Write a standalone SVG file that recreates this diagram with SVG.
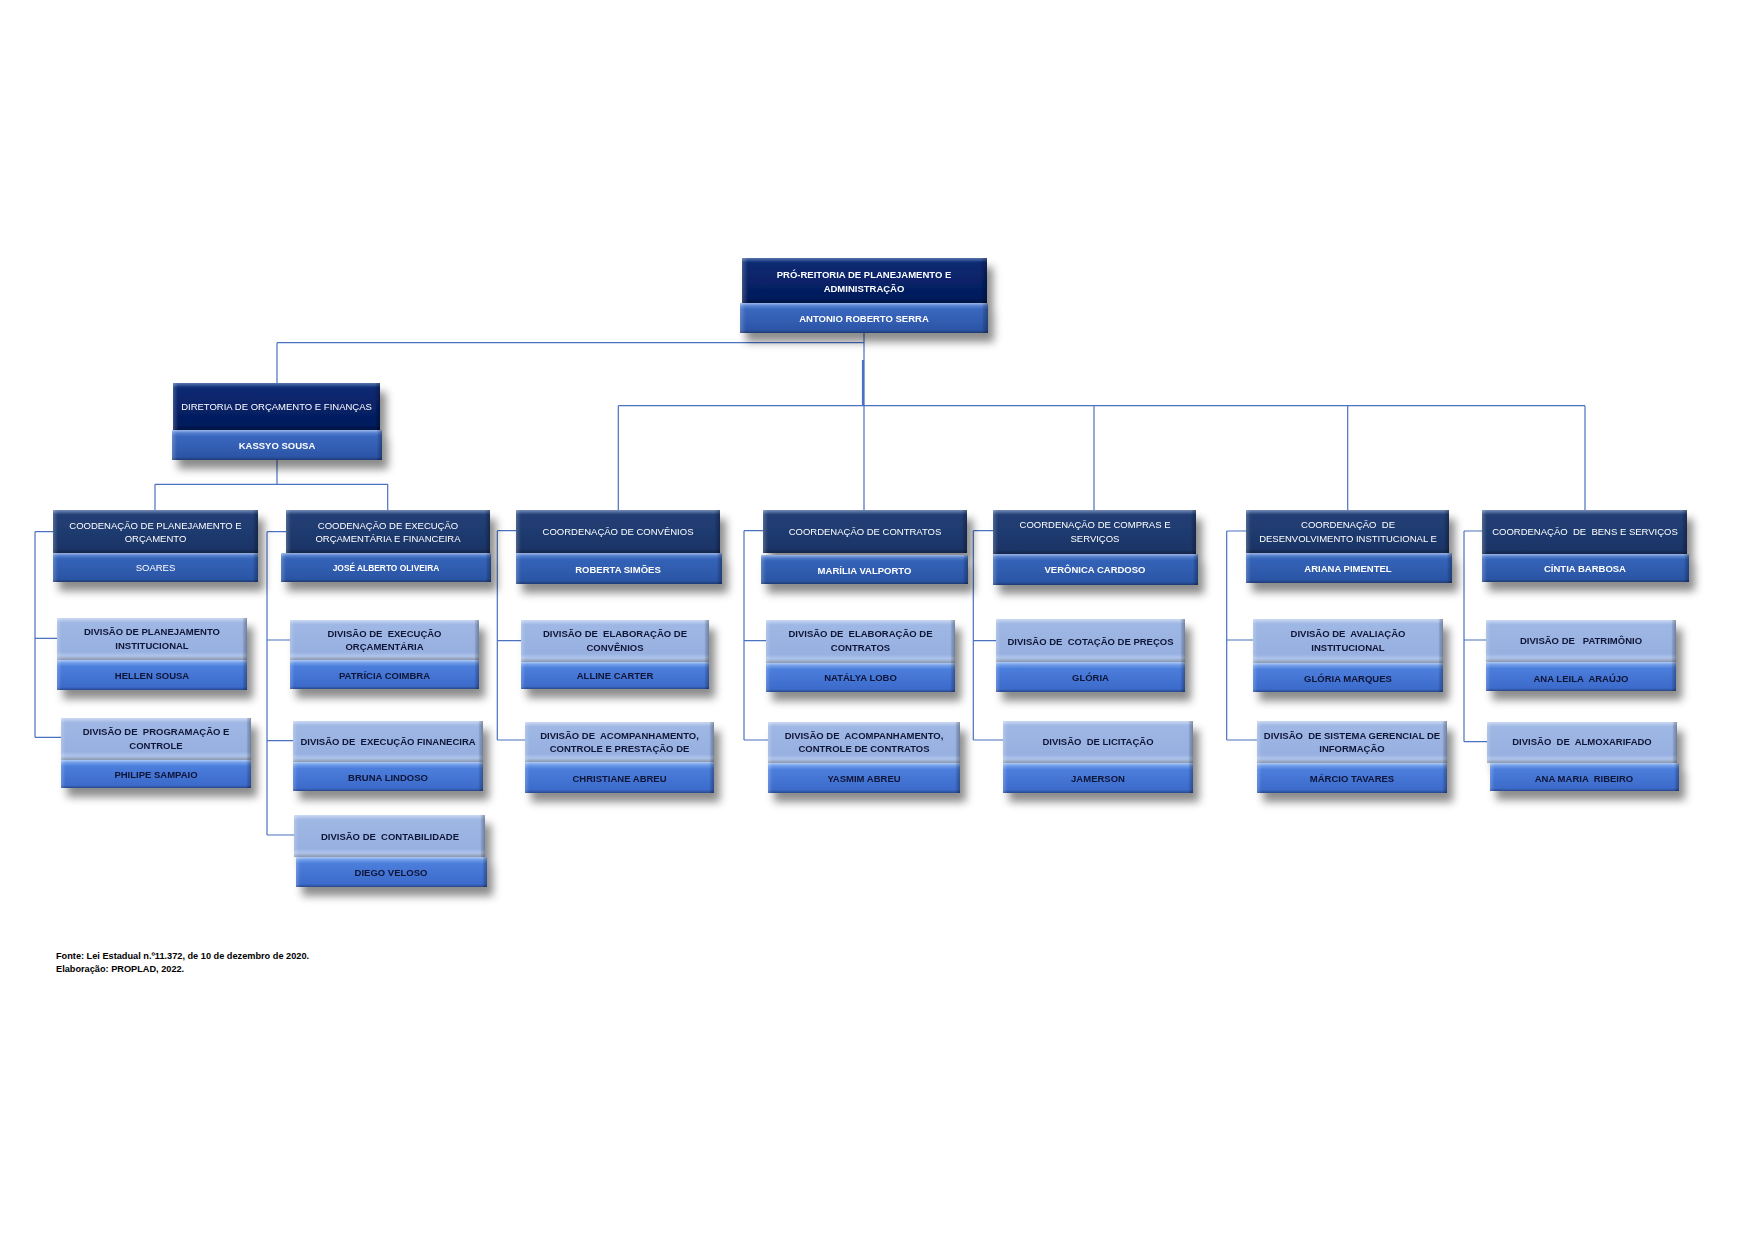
<svg xmlns="http://www.w3.org/2000/svg" width="1755" height="1241" viewBox="0 0 1755 1241">
<defs>
<linearGradient id="gTop" x1="0" y1="0" x2="0" y2="1"><stop offset="0" stop-color="#123a8a"/><stop offset="0.12" stop-color="#0a2a72"/><stop offset="1" stop-color="#04195a"/></linearGradient>
<linearGradient id="gTopBar" x1="0" y1="0" x2="0" y2="1"><stop offset="0" stop-color="#6f97e0"/><stop offset="0.2" stop-color="#3a68bf"/><stop offset="1" stop-color="#2a52a3"/></linearGradient>
<linearGradient id="gCo" x1="0" y1="0" x2="0" y2="1"><stop offset="0" stop-color="#3a5a95"/><stop offset="0.12" stop-color="#223f75"/><stop offset="1" stop-color="#1b3466"/></linearGradient>
<linearGradient id="gCoBar" x1="0" y1="0" x2="0" y2="1"><stop offset="0" stop-color="#6e95dc"/><stop offset="0.2" stop-color="#3463b8"/><stop offset="1" stop-color="#2a53a2"/></linearGradient>
<linearGradient id="gDv" x1="0" y1="0" x2="0" y2="1"><stop offset="0" stop-color="#b4c8ee"/><stop offset="0.12" stop-color="#9fb7e4"/><stop offset="0.8" stop-color="#97b0e0"/><stop offset="1" stop-color="#c4d7f6"/></linearGradient>
<linearGradient id="gDvBar" x1="0" y1="0" x2="0" y2="1"><stop offset="0" stop-color="#8ab2f2"/><stop offset="0.22" stop-color="#4c7edc"/><stop offset="1" stop-color="#3a68c8"/></linearGradient>
<linearGradient id="bv" x1="0" y1="0" x2="0" y2="1"><stop offset="0" stop-color="#fff" stop-opacity="0.3"/><stop offset="0.07" stop-color="#fff" stop-opacity="0.08"/><stop offset="0.1" stop-color="#fff" stop-opacity="0"/><stop offset="0.9" stop-color="#000" stop-opacity="0"/><stop offset="0.94" stop-color="#000" stop-opacity="0.12"/><stop offset="1" stop-color="#000" stop-opacity="0.3"/></linearGradient>
<linearGradient id="bh" x1="0" y1="0" x2="1" y2="0"><stop offset="0" stop-color="#fff" stop-opacity="0.22"/><stop offset="0.018" stop-color="#fff" stop-opacity="0.05"/><stop offset="0.025" stop-color="#fff" stop-opacity="0"/><stop offset="0.975" stop-color="#000" stop-opacity="0"/><stop offset="0.982" stop-color="#000" stop-opacity="0.12"/><stop offset="1" stop-color="#000" stop-opacity="0.3"/></linearGradient>
<filter id="sh" x="-10%" y="-20%" width="130%" height="180%"><feDropShadow dx="6" dy="9" stdDeviation="4.5" flood-color="#000" flood-opacity="0.45"/></filter>
</defs>
<style>
.node{filter:url(#sh)}
.top{fill:url(#gTop)}
.topbar{fill:url(#gTopBar)}
.co{fill:url(#gCo)}
.cobar{fill:url(#gCoBar)}
.dv{fill:url(#gDv)}
.dvbar{fill:url(#gDvBar)}
.bv{fill:url(#bv)}
.bh{fill:url(#bh)}
text{font-family:"Liberation Sans",Arial,sans-serif;text-anchor:middle;white-space:pre}
.tw{fill:#fff;font-size:9.5px}
.twb{fill:#fff;font-size:9.5px;font-weight:bold}
.tdb{fill:#0f1436;font-size:9.5px;font-weight:bold}
.ft{fill:#000;font-size:9.2px;font-weight:bold;text-anchor:start}
.cn{fill:none;stroke:#4a72c0;stroke-width:1.2}
</style>
<rect width="1755" height="1241" fill="#fff"/>

<g id="connectors" class="cn">
<path d="M864 333V510"/>
<path d="M863 360V405.7" stroke-width="2.2"/>
<path d="M277 342.7H864M277 342.7V383"/>
<path d="M618.3 405.7H1585M618.3 405.7V510M1094 405.7V510M1347.7 405.7V510M1585 405.7V510"/>
<path d="M277 460V484.3M155 484.3H387.7M155 484.3V510M387.7 484.3V510"/>
<path d="M35 531.7V737.3M35 531.7H53M35 638.3H57M35 737.3H61"/>
<path d="M267 531.7V835M267 531.7H286M267 640H290M267 740.7H293M267 835H294"/>
<path d="M497.3 530.7V740M497.3 530.7H516M497.3 640.7H521M497.3 740H525"/>
<path d="M744 530.7V740M744 530.7H763M744 640.7H766M744 740H768"/>
<path d="M973.3 530.7V740M973.3 530.7H993M973.3 640.7H996M973.3 740H1003"/>
<path d="M1226.7 531V740M1226.7 531H1246M1226.7 640H1253M1226.7 740H1257"/>
<path d="M1464 531V741.7M1464 531H1482M1464 640H1486M1464 741.7H1487"/>
</g>

<g id="n-proreitoria" class="node">
<rect class="top" x="742" y="258" width="245" height="45"/><rect class="bv" x="742" y="258" width="245" height="45"/><rect class="bh" x="742" y="258" width="245" height="45"/>
<rect class="topbar" x="740" y="303" width="248" height="30"/><rect class="bv" x="740" y="303" width="248" height="30"/><rect class="bh" x="740" y="303" width="248" height="30"/>
<text class="twb" x="864" y="277.5">PRÓ-REITORIA DE PLANEJAMENTO E</text>
<text class="twb" x="864" y="291.5">ADMINISTRAÇÃO</text>
<text class="twb" x="864" y="322">ANTONIO ROBERTO SERRA</text>
</g>

<g id="n-diretoria" class="node">
<rect class="top" x="173" y="383" width="207" height="47"/><rect class="bv" x="173" y="383" width="207" height="47"/><rect class="bh" x="173" y="383" width="207" height="47"/>
<rect class="topbar" x="172" y="430" width="210" height="30"/><rect class="bv" x="172" y="430" width="210" height="30"/><rect class="bh" x="172" y="430" width="210" height="30"/>
<text class="tw" x="276.5" y="410">DIRETORIA DE ORÇAMENTO E FINANÇAS</text>
<text class="twb" x="277" y="448.5">KASSYO SOUSA</text>
</g>

<g id="n-coord-planejamento" class="node">
<rect class="co" x="53" y="510" width="205" height="43"/><rect class="bv" x="53" y="510" width="205" height="43"/><rect class="bh" x="53" y="510" width="205" height="43"/>
<rect class="cobar" x="53" y="553" width="205" height="29"/><rect class="bv" x="53" y="553" width="205" height="29"/><rect class="bh" x="53" y="553" width="205" height="29"/>
<text class="tw" x="155.5" y="528.5">COODENAÇÃO DE PLANEJAMENTO E</text>
<text class="tw" x="155.5" y="542">ORÇAMENTO</text>
<text class="tw" x="155.5" y="571">SOARES</text>
</g>

<g id="n-coord-execucao" class="node">
<rect class="co" x="286" y="510" width="204" height="43"/><rect class="bv" x="286" y="510" width="204" height="43"/><rect class="bh" x="286" y="510" width="204" height="43"/>
<rect class="cobar" x="281" y="553" width="210" height="29"/><rect class="bv" x="281" y="553" width="210" height="29"/><rect class="bh" x="281" y="553" width="210" height="29"/>
<text class="tw" x="388" y="528.5">COODENAÇÃO DE EXECUÇÃO</text>
<text class="tw" x="388" y="542">ORÇAMENTÁRIA E FINANCEIRA</text>
<text class="twb" x="386" y="570.5" style="font-size:8.4px">JOSÉ ALBERTO OLIVEIRA</text>
</g>

<g id="n-coord-convenios" class="node">
<rect class="co" x="516" y="510" width="204" height="43"/><rect class="bv" x="516" y="510" width="204" height="43"/><rect class="bh" x="516" y="510" width="204" height="43"/>
<rect class="cobar" x="516" y="553" width="206" height="31"/><rect class="bv" x="516" y="553" width="206" height="31"/><rect class="bh" x="516" y="553" width="206" height="31"/>
<text class="tw" x="618" y="535">COORDENAÇÃO DE CONVÊNIOS</text>
<text class="twb" x="618" y="572.5">ROBERTA SIMÕES</text>
</g>

<g id="n-coord-contratos" class="node">
<rect class="co" x="763" y="510" width="204" height="43"/><rect class="bv" x="763" y="510" width="204" height="43"/><rect class="bh" x="763" y="510" width="204" height="43"/>
<rect class="cobar" x="761" y="555" width="207" height="29"/><rect class="bv" x="761" y="555" width="207" height="29"/><rect class="bh" x="761" y="555" width="207" height="29"/>
<text class="tw" x="865" y="535">COORDENAÇÃO DE CONTRATOS</text>
<text class="twb" x="864.5" y="573.5">MARÍLIA VALPORTO</text>
</g>

<g id="n-coord-compras" class="node">
<rect class="co" x="993" y="510" width="203" height="44"/><rect class="bv" x="993" y="510" width="203" height="44"/><rect class="bh" x="993" y="510" width="203" height="44"/>
<rect class="cobar" x="993" y="554" width="205" height="31"/><rect class="bv" x="993" y="554" width="205" height="31"/><rect class="bh" x="993" y="554" width="205" height="31"/>
<text class="tw" x="1095" y="528">COORDENAÇÃO DE COMPRAS E</text>
<text class="tw" x="1095" y="542">SERVIÇOS</text>
<text class="twb" x="1095" y="573">VERÔNICA CARDOSO</text>
</g>

<g id="n-coord-desenvolvimento" class="node">
<rect class="co" x="1246" y="510" width="203" height="43"/><rect class="bv" x="1246" y="510" width="203" height="43"/><rect class="bh" x="1246" y="510" width="203" height="43"/>
<rect class="cobar" x="1246" y="553" width="206" height="30"/><rect class="bv" x="1246" y="553" width="206" height="30"/><rect class="bh" x="1246" y="553" width="206" height="30"/>
<text class="tw" x="1348" y="528">COORDENAÇÃO  DE</text>
<text class="tw" x="1348" y="542">DESENVOLVIMENTO INSTITUCIONAL E</text>
<text class="twb" x="1348" y="572">ARIANA PIMENTEL</text>
</g>

<g id="n-coord-bens" class="node">
<rect class="co" x="1482" y="510" width="205" height="44"/><rect class="bv" x="1482" y="510" width="205" height="44"/><rect class="bh" x="1482" y="510" width="205" height="44"/>
<rect class="cobar" x="1482" y="554" width="207" height="28"/><rect class="bv" x="1482" y="554" width="207" height="28"/><rect class="bh" x="1482" y="554" width="207" height="28"/>
<text class="tw" x="1585" y="535">COORDENAÇÃO  DE  BENS E SERVIÇOS</text>
<text class="twb" x="1585" y="572">CÍNTIA BARBOSA</text>
</g>

<g id="n-div-planejamento" class="node">
<rect class="dv" x="57" y="618" width="190" height="42"/><rect class="bv" x="57" y="618" width="190" height="42"/><rect class="bh" x="57" y="618" width="190" height="42"/>
<rect class="dvbar" x="57" y="660" width="190" height="30"/><rect class="bv" x="57" y="660" width="190" height="30"/><rect class="bh" x="57" y="660" width="190" height="30"/>
<text class="tdb" x="152" y="634.5">DIVISÃO DE PLANEJAMENTO</text>
<text class="tdb" x="152" y="648.5">INSTITUCIONAL</text>
<text class="tdb" x="152" y="678.5">HELLEN SOUSA</text>
</g>

<g id="n-div-programacao" class="node">
<rect class="dv" x="61" y="718" width="190" height="42"/><rect class="bv" x="61" y="718" width="190" height="42"/><rect class="bh" x="61" y="718" width="190" height="42"/>
<rect class="dvbar" x="61" y="760" width="190" height="28"/><rect class="bv" x="61" y="760" width="190" height="28"/><rect class="bh" x="61" y="760" width="190" height="28"/>
<text class="tdb" x="156" y="734.5">DIVISÃO DE  PROGRAMAÇÃO E</text>
<text class="tdb" x="156" y="748.5">CONTROLE</text>
<text class="tdb" x="156" y="777.5">PHILIPE SAMPAIO</text>
</g>

<g id="n-div-execucao-orcamentaria" class="node">
<rect class="dv" x="290" y="620" width="189" height="40"/><rect class="bv" x="290" y="620" width="189" height="40"/><rect class="bh" x="290" y="620" width="189" height="40"/>
<rect class="dvbar" x="290" y="660" width="189" height="29"/><rect class="bv" x="290" y="660" width="189" height="29"/><rect class="bh" x="290" y="660" width="189" height="29"/>
<text class="tdb" x="384.5" y="636.5">DIVISÃO DE  EXECUÇÃO</text>
<text class="tdb" x="384.5" y="650">ORÇAMENTÁRIA</text>
<text class="tdb" x="384.5" y="678.5">PATRÍCIA COIMBRA</text>
</g>

<g id="n-div-execucao-financeira" class="node">
<rect class="dv" x="293" y="721" width="190" height="41"/><rect class="bv" x="293" y="721" width="190" height="41"/><rect class="bh" x="293" y="721" width="190" height="41"/>
<rect class="dvbar" x="293" y="762" width="190" height="29"/><rect class="bv" x="293" y="762" width="190" height="29"/><rect class="bh" x="293" y="762" width="190" height="29"/>
<text class="tdb" x="388" y="744.5">DIVISÃO DE  EXECUÇÃO FINANECIRA</text>
<text class="tdb" x="388" y="780.5">BRUNA LINDOSO</text>
</g>

<g id="n-div-contabilidade" class="node">
<rect class="dv" x="294" y="815" width="191" height="42"/><rect class="bv" x="294" y="815" width="191" height="42"/><rect class="bh" x="294" y="815" width="191" height="42"/>
<rect class="dvbar" x="296" y="857" width="191" height="30"/><rect class="bv" x="296" y="857" width="191" height="30"/><rect class="bh" x="296" y="857" width="191" height="30"/>
<text class="tdb" x="390" y="839.5">DIVISÃO DE  CONTABILIDADE</text>
<text class="tdb" x="391" y="875.5">DIEGO VELOSO</text>
</g>

<g id="n-div-elaboracao-convenios" class="node">
<rect class="dv" x="521" y="620" width="188" height="42"/><rect class="bv" x="521" y="620" width="188" height="42"/><rect class="bh" x="521" y="620" width="188" height="42"/>
<rect class="dvbar" x="521" y="662" width="188" height="27"/><rect class="bv" x="521" y="662" width="188" height="27"/><rect class="bh" x="521" y="662" width="188" height="27"/>
<text class="tdb" x="615" y="637">DIVISÃO DE  ELABORAÇÃO DE</text>
<text class="tdb" x="615" y="650.5">CONVÊNIOS</text>
<text class="tdb" x="615" y="678.5">ALLINE CARTER</text>
</g>

<g id="n-div-acompanhamento-convenios" class="node">
<rect class="dv" x="525" y="722" width="189" height="40"/><rect class="bv" x="525" y="722" width="189" height="40"/><rect class="bh" x="525" y="722" width="189" height="40"/>
<rect class="dvbar" x="525" y="762" width="189" height="31"/><rect class="bv" x="525" y="762" width="189" height="31"/><rect class="bh" x="525" y="762" width="189" height="31"/>
<text class="tdb" x="619.5" y="738.5">DIVISÃO DE  ACOMPANHAMENTO,</text>
<text class="tdb" x="619.5" y="752">CONTROLE E PRESTAÇÃO DE</text>
<text class="tdb" x="619.5" y="782">CHRISTIANE ABREU</text>
</g>

<g id="n-div-elaboracao-contratos" class="node">
<rect class="dv" x="766" y="620" width="189" height="43"/><rect class="bv" x="766" y="620" width="189" height="43"/><rect class="bh" x="766" y="620" width="189" height="43"/>
<rect class="dvbar" x="766" y="663" width="189" height="29"/><rect class="bv" x="766" y="663" width="189" height="29"/><rect class="bh" x="766" y="663" width="189" height="29"/>
<text class="tdb" x="860.5" y="637">DIVISÃO DE  ELABORAÇÃO DE</text>
<text class="tdb" x="860.5" y="650.5">CONTRATOS</text>
<text class="tdb" x="860.5" y="681">NATÁLYA LOBO</text>
</g>

<g id="n-div-acompanhamento-contratos" class="node">
<rect class="dv" x="768" y="722" width="192" height="41"/><rect class="bv" x="768" y="722" width="192" height="41"/><rect class="bh" x="768" y="722" width="192" height="41"/>
<rect class="dvbar" x="768" y="763" width="192" height="30"/><rect class="bv" x="768" y="763" width="192" height="30"/><rect class="bh" x="768" y="763" width="192" height="30"/>
<text class="tdb" x="864" y="738.5">DIVISÃO DE  ACOMPANHAMENTO,</text>
<text class="tdb" x="864" y="752">CONTROLE DE CONTRATOS</text>
<text class="tdb" x="864" y="782">YASMIM ABREU</text>
</g>

<g id="n-div-cotacao" class="node">
<rect class="dv" x="996" y="619" width="189" height="43"/><rect class="bv" x="996" y="619" width="189" height="43"/><rect class="bh" x="996" y="619" width="189" height="43"/>
<rect class="dvbar" x="996" y="662" width="189" height="30"/><rect class="bv" x="996" y="662" width="189" height="30"/><rect class="bh" x="996" y="662" width="189" height="30"/>
<text class="tdb" x="1090.5" y="644.5">DIVISÃO DE  COTAÇÃO DE PREÇOS</text>
<text class="tdb" x="1090.5" y="681">GLÓRIA</text>
</g>

<g id="n-div-licitacao" class="node">
<rect class="dv" x="1003" y="721" width="190" height="42"/><rect class="bv" x="1003" y="721" width="190" height="42"/><rect class="bh" x="1003" y="721" width="190" height="42"/>
<rect class="dvbar" x="1003" y="763" width="190" height="30"/><rect class="bv" x="1003" y="763" width="190" height="30"/><rect class="bh" x="1003" y="763" width="190" height="30"/>
<text class="tdb" x="1098" y="744.5">DIVISÃO  DE LICITAÇÃO</text>
<text class="tdb" x="1098" y="782">JAMERSON</text>
</g>

<g id="n-div-avaliacao" class="node">
<rect class="dv" x="1253" y="619" width="190" height="44"/><rect class="bv" x="1253" y="619" width="190" height="44"/><rect class="bh" x="1253" y="619" width="190" height="44"/>
<rect class="dvbar" x="1253" y="663" width="190" height="29"/><rect class="bv" x="1253" y="663" width="190" height="29"/><rect class="bh" x="1253" y="663" width="190" height="29"/>
<text class="tdb" x="1348" y="637">DIVISÃO DE  AVALIAÇÃO</text>
<text class="tdb" x="1348" y="650.5">INSTITUCIONAL</text>
<text class="tdb" x="1348" y="682">GLÓRIA MARQUES</text>
</g>

<g id="n-div-sistema" class="node">
<rect class="dv" x="1257" y="721" width="190" height="42"/><rect class="bv" x="1257" y="721" width="190" height="42"/><rect class="bh" x="1257" y="721" width="190" height="42"/>
<rect class="dvbar" x="1257" y="763" width="190" height="30"/><rect class="bv" x="1257" y="763" width="190" height="30"/><rect class="bh" x="1257" y="763" width="190" height="30"/>
<text class="tdb" x="1352" y="738.5">DIVISÃO  DE SISTEMA GERENCIAL DE</text>
<text class="tdb" x="1352" y="752">INFORMAÇÃO</text>
<text class="tdb" x="1352" y="782">MÁRCIO TAVARES</text>
</g>

<g id="n-div-patrimonio" class="node">
<rect class="dv" x="1486" y="620" width="190" height="42"/><rect class="bv" x="1486" y="620" width="190" height="42"/><rect class="bh" x="1486" y="620" width="190" height="42"/>
<rect class="dvbar" x="1486" y="662" width="190" height="29"/><rect class="bv" x="1486" y="662" width="190" height="29"/><rect class="bh" x="1486" y="662" width="190" height="29"/>
<text class="tdb" x="1581" y="643.5">DIVISÃO DE   PATRIMÔNIO</text>
<text class="tdb" x="1581" y="681.5">ANA LEILA  ARAÚJO</text>
</g>

<g id="n-div-almoxarifado" class="node">
<rect class="dv" x="1487" y="722" width="190" height="41"/><rect class="bv" x="1487" y="722" width="190" height="41"/><rect class="bh" x="1487" y="722" width="190" height="41"/>
<rect class="dvbar" x="1490" y="763" width="189" height="28"/><rect class="bv" x="1490" y="763" width="189" height="28"/><rect class="bh" x="1490" y="763" width="189" height="28"/>
<text class="tdb" x="1582" y="744.5">DIVISÃO  DE  ALMOXARIFADO</text>
<text class="tdb" x="1584" y="781.5">ANA MARIA  RIBEIRO</text>
</g>

<g id="footer">
<text class="ft" x="56" y="959">Fonte: Lei Estadual n.º11.372, de 10 de dezembro de 2020.</text>
<text class="ft" x="56" y="972">Elaboração: PROPLAD, 2022.</text>
</g>
</svg>
